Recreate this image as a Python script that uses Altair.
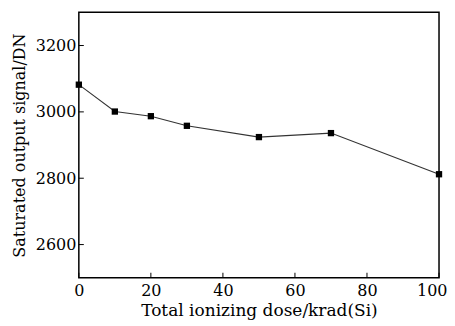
import altair as alt
import pandas as pd

dose = [0, 10, 20, 30, 50, 70, 100]
signal = [3082, 3001, 2987, 2958, 2924, 2936, 2812]
x_ticks = [0, 20, 40, 60, 80, 100]
y_ticks = [2600, 2800, 3000, 3200]

df = pd.DataFrame({"dose": dose, "signal": signal})
xt = pd.DataFrame({"v": x_ticks})
yt = pd.DataFrame({"v": y_ticks})

FONT = "DejaVu Serif"
FS = 16
xs = alt.Scale(domain=[0, 100], nice=False)
ys = alt.Scale(domain=[2500, 3300], nice=False)

H = 266
W = 361

line = alt.Chart(df).mark_line(color="#333333", strokeWidth=1.1).encode(
    x=alt.X("dose:Q", scale=xs,
            axis=alt.Axis(title="Total  ionizing  dose/krad(Si)", values=x_ticks, format="d",
                          tickSize=0, ticks=False, labelPadding=5, grid=False, domain=False,
                          labelFlush=False,
                          labelAlign={"condition": {"test": "datum.value == 100", "value": "right"}, "value": "center"},
                          labelOffset={"condition": {"test": "datum.value == 100", "value": 8}, "value": 0},
                          labelFont=FONT, labelFontSize=FS, labelColor="black",
                          titleFont=FONT, titleFontSize=17, titleFontWeight="normal",
                          titleColor="black", titlePadding=4)),
    y=alt.Y("signal:Q", scale=ys,
            axis=alt.Axis(title="Saturated output signal/DN", values=y_ticks, format="d",
                          tickSize=0, ticks=False, labelPadding=3, grid=False, domain=False,
                          labelFlush=False,
                          labelFont=FONT, labelFontSize=FS, labelColor="black",
                          titleFont=FONT, titleFontSize=FS, titleFontWeight="normal",
                          titleColor="black", titlePadding=8)),
)
pts = alt.Chart(df).mark_point(shape="square", filled=True, color="black", size=40, opacity=1).encode(
    x=alt.X("dose:Q", scale=xs), y=alt.Y("signal:Q", scale=ys)
)
xtick = alt.Chart(xt).mark_rule(color="black", strokeWidth=1).encode(
    x=alt.X("v:Q", scale=xs), y=alt.value(H), y2=alt.value(H - 5)
)
ytick = alt.Chart(yt).mark_rule(color="black", strokeWidth=1).encode(
    y=alt.Y("v:Q", scale=ys), x=alt.value(0), x2=alt.value(5)
)

chart = alt.layer(line, pts, xtick, ytick).properties(
    width=W, height=H,
    background="white",
    autosize=alt.AutoSizeParams(type="none"),
    padding={"left": 71, "top": 4, "right": 8, "bottom": 48},
).configure_view(stroke="black", strokeWidth=1.5)

chart.save("out.html", embed_options={"renderer": "svg", "actions": False})
